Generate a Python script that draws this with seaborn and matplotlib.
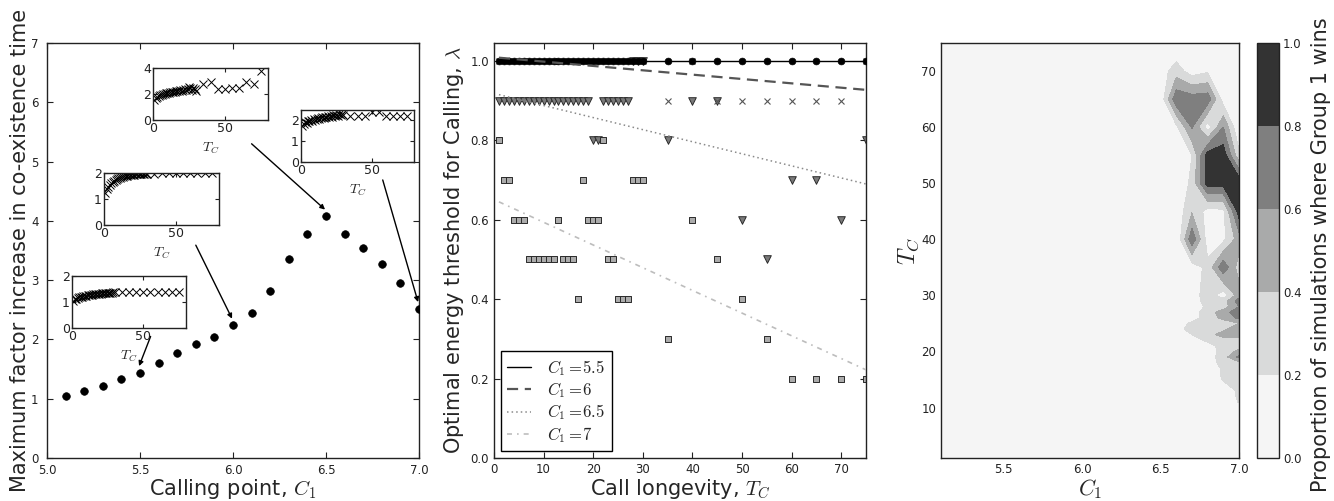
import numpy as np
import matplotlib
matplotlib.use("Agg")
import matplotlib.pyplot as plt
import seaborn as sns

# ---------------- data ----------------
# Panel 1: maximum factor increase vs calling point
calling_points = [5.1, 5.2, 5.3, 5.4, 5.5, 5.6, 5.7, 5.8, 5.9, 6.0,
                  6.1, 6.2, 6.3, 6.4, 6.5, 6.6, 6.7, 6.8, 6.9, 7.0]
max_factor = [1.04, 1.13, 1.22, 1.33, 1.44, 1.60, 1.77, 1.93, 2.04, 2.24,
              2.44, 2.82, 3.35, 3.77, 4.08, 3.77, 3.55, 3.28, 2.95, 2.52]

# Call longevity values used in the simulations
tc_dense = [1, 2, 3, 4, 5, 6, 7, 8, 9, 10, 11, 12, 13, 14, 15,
            16, 17, 18, 19, 20, 21, 22, 23, 24, 25, 26, 27, 28, 29, 30]
tc_sparse = [35, 40, 45, 50, 55, 60, 65, 70, 75]

# Insets: factor increase vs T_C for C1 = 5.5, 6, 6.5, 7
inset_55 = [1.05, 1.10, 1.13, 1.16, 1.18, 1.20, 1.21, 1.23, 1.24, 1.25,
            1.26, 1.27, 1.28, 1.28, 1.29, 1.30, 1.30, 1.31, 1.32, 1.32,
            1.33, 1.33, 1.34, 1.34, 1.35, 1.35, 1.36, 1.36, 1.37, 1.37,
            1.37, 1.37, 1.38, 1.38, 1.38, 1.39, 1.39, 1.40, 1.39]
inset_6 = [1.25, 1.38, 1.47, 1.55, 1.61, 1.66, 1.70, 1.74, 1.77, 1.80,
           1.82, 1.84, 1.86, 1.87, 1.88, 1.90, 1.91, 1.92, 1.93, 1.93,
           1.94, 1.95, 1.95, 1.96, 1.96, 1.97, 1.97, 1.97, 1.98, 1.98,
           1.98, 1.99, 1.99, 1.99, 1.99, 2.00, 2.00, 2.00, 2.00]
inset_65 = [1.55, 1.70, 1.78, 1.85, 1.90, 1.95, 1.98, 2.02, 2.05, 2.08,
            2.10, 2.12, 2.15, 2.18, 2.16, 2.22, 2.20, 2.25, 2.28, 2.24,
            2.30, 2.35, 2.27, 2.40, 2.55, 2.45, 2.30, 2.50, 2.35, 2.25,
            2.75, 2.95, 2.35, 2.35, 2.45, 2.45, 2.90, 2.75, 3.75]
inset_7 = [1.75, 1.85, 1.90, 1.88, 1.95, 1.98, 2.00, 1.97, 2.05, 2.02,
           2.08, 2.10, 2.06, 2.12, 2.15, 2.10, 2.18, 2.14, 2.20, 2.16,
           2.22, 2.18, 2.25, 2.20, 2.28, 2.22, 2.30, 2.25, 2.32, 2.27,
           2.20, 2.20, 2.20, 2.40, 2.40, 2.20, 2.20, 2.20, 2.20]
inset_ylims = [2.0, 2.0, 4.0, 2.5]
inset_yticks = [[0, 1, 2], [0, 1, 2], [0, 2, 4], [0, 1, 2]]

# Panel 2: optimal energy threshold lambda vs T_C
lam_55 = [1.0, 1.0, 1.0, 1.0, 1.0, 1.0, 1.0, 1.0, 1.0, 1.0,
          1.0, 1.0, 1.0, 1.0, 1.0, 1.0, 1.0, 1.0, 1.0, 1.0,
          1.0, 1.0, 1.0, 1.0, 1.0, 1.0, 1.0, 1.0, 1.0, 1.0,
          1.0, 1.0, 1.0, 1.0, 1.0, 1.0, 1.0, 1.0, 1.0]
lam_6 = [1.0, 1.0, 1.0, 1.0, 1.0, 1.0, 1.0, 1.0, 1.0, 1.0,
         1.0, 1.0, 1.0, 1.0, 1.0, 1.0, 1.0, 1.0, 1.0, 1.0,
         1.0, 1.0, 1.0, 1.0, 1.0, 1.0, 1.0, 1.0, 1.0, 1.0,
         0.9, 1.0, 0.9, 0.9, 0.9, 0.9, 0.9, 0.9, 1.0]
lam_65 = [0.9, 0.9, 0.9, 0.9, 0.9, 0.9, 0.9, 0.9, 0.9, 0.9,
          0.9, 0.9, 0.9, 0.9, 0.9, 0.9, 0.9, 0.9, 0.9, 0.8,
          0.8, 0.9, 0.9, 0.9, 0.9, 0.9, 0.9, 1.0, 1.0, 1.0,
          0.8, 0.9, 0.9, 0.6, 0.5, 0.7, 0.7, 0.6, 0.8]
lam_7 = [0.8, 0.7, 0.7, 0.6, 0.6, 0.6, 0.5, 0.5, 0.5, 0.5,
         0.5, 0.5, 0.6, 0.5, 0.5, 0.5, 0.4, 0.7, 0.6, 0.6,
         0.6, 0.8, 0.5, 0.5, 0.4, 0.4, 0.4, 0.7, 0.7, 0.7,
         0.3, 0.6, 0.5, 0.4, 0.3, 0.2, 0.2, 0.2, 0.2]
# linear trend lines (end values)
fit_tc = [1, 75]
fit_55 = [1.0, 1.0]
fit_6 = [1.008, 0.927]
fit_65 = [0.915, 0.690]
fit_7 = [0.645, 0.222]
legend_labels = [r"$C_1 =\!5.5$", r"$C_1 =\!6$", r"$C_1 =\!6.5$", r"$C_1 =\!7$"]

# Panel 3: proportion of simulations where Group 1 wins
c1_grid = [5.1, 5.2, 5.3, 5.4, 5.5, 5.6, 5.7, 5.8, 5.9, 6.0,
           6.1, 6.2, 6.3, 6.4, 6.5, 6.6, 6.7, 6.8, 6.9, 7.0]
win_c1 = [6.5, 6.6, 6.7, 6.8, 6.9, 7.0]
win_tc = [70, 65, 60, 55, 50, 45, 40, 35, 30, 29, 28, 27, 26, 25, 24, 23,
          22, 21, 20, 19, 18, 17, 16, 15, 14, 13, 12, 11, 10]
win_vals = [
    [0.10, 0.30, 0.10, 0.17, 0.00, 0.00],   # 70
    [0.05, 0.75, 0.70, 0.72, 0.10, 0.00],   # 65
    [0.00, 0.15, 0.62, 0.10, 0.60, 0.00],   # 60
    [0.00, 0.00, 0.20, 0.90, 0.92, 0.25],   # 55
    [0.00, 0.02, 0.25, 0.90, 0.88, 0.95],   # 50
    [0.00, 0.05, 0.38, 0.12, 0.15, 0.90],   # 45
    [0.00, 0.00, 0.75, 0.10, 0.15, 0.50],   # 40
    [0.00, 0.00, 0.10, 0.25, 0.75, 0.30],   # 35
    [0.00, 0.00, 0.10, 0.30, 0.10, 0.50],   # 30
    [0.00, 0.00, 0.10, 0.28, 0.30, 0.70],   # 29
    [0.00, 0.00, 0.05, 0.25, 0.30, 0.60],   # 28
    [0.00, 0.00, 0.10, 0.30, 0.50, 0.75],   # 27
    [0.00, 0.00, 0.10, 0.30, 0.45, 0.65],   # 26
    [0.00, 0.05, 0.25, 0.30, 0.30, 0.40],   # 25
    [0.00, 0.10, 0.30, 0.30, 0.35, 0.55],   # 24
    [0.00, 0.00, 0.20, 0.30, 0.50, 0.45],   # 23
    [0.00, 0.00, 0.10, 0.25, 0.30, 0.35],   # 22
    [0.00, 0.00, 0.00, 0.10, 0.30, 0.30],   # 21
    [0.00, 0.00, 0.00, 0.05, 0.30, 0.45],   # 20
    [0.00, 0.00, 0.00, 0.10, 0.30, 0.65],   # 19
    [0.00, 0.00, 0.00, 0.05, 0.30, 0.35],   # 18
    [0.00, 0.00, 0.00, 0.00, 0.25, 0.30],   # 17
    [0.00, 0.00, 0.00, 0.00, 0.25, 0.30],   # 16
    [0.00, 0.00, 0.00, 0.00, 0.22, 0.30],   # 15
    [0.00, 0.00, 0.00, 0.00, 0.15, 0.30],   # 14
    [0.00, 0.00, 0.00, 0.00, 0.05, 0.25],   # 13
    [0.00, 0.00, 0.00, 0.00, 0.00, 0.25],   # 12
    [0.00, 0.00, 0.00, 0.00, 0.00, 0.22],   # 11
    [0.00, 0.00, 0.00, 0.00, 0.00, 0.10],   # 10
]
win_levels = [0.0, 0.2, 0.4, 0.6, 0.8, 1.0]

# ---------------- style ----------------
sns.set_style("ticks")
plt.rcParams.update({
    "font.family": ["DejaVu Sans"],
    "mathtext.fontset": "cm",
    "xtick.direction": "in",
    "ytick.direction": "in",
    "xtick.top": True,
    "ytick.right": True,
    "xtick.major.size": 4,
    "ytick.major.size": 4,
    "xtick.labelsize": 8.5,
    "ytick.labelsize": 8.5,
    "axes.edgecolor": "#222222",
    "axes.linewidth": 1.0,
    "xtick.color": "#222222",
    "ytick.color": "#222222",
})

W, H = 1334, 501
fig = plt.figure(figsize=(W / 100, H / 100), dpi=100)


def px_axes(l, t, r, b):
    return fig.add_axes([l / W, (H - b) / H, (r - l) / W, (b - t) / H])


tc_all = tc_dense + tc_sparse

# ---------------- panel 1 ----------------
ax1 = px_axes(47, 43, 419, 458)
sns.scatterplot(x=calling_points, y=max_factor, color="black", s=30,
                edgecolor="black", linewidth=0.5, ax=ax1, legend=False, zorder=3)
ax1.set_xlim(5.0, 7.0)
ax1.set_ylim(0, 7)
ax1.set_xticks([5.0, 5.5, 6.0, 6.5, 7.0])
ax1.set_yticks(range(0, 8))
ax1.tick_params(axis="y", pad=6)
ax1.tick_params(axis="x", pad=4.5)
ax1.set_xlabel(r"Calling point, $C_1$", fontsize=15, labelpad=0)
ax1.set_ylabel("Maximum factor increase in co-existence time", fontsize=15, labelpad=1)

inset_boxes = [(72, 276, 186, 328), (104, 173, 219, 225),
               (153, 68, 268, 120), (301, 110, 414, 162)]
inset_series = [inset_55, inset_6, inset_65, inset_7]
for box, vals, ylim, yt in zip(inset_boxes, inset_series, inset_ylims, inset_yticks):
    axi = px_axes(*box)
    axi.plot(tc_all, vals, linestyle="none", marker="x", color="black",
             markersize=6, markeredgewidth=0.7)
    axi.set_xlim(0, 80)
    axi.set_ylim(0, ylim)
    axi.set_xticks([0, 50])
    axi.set_yticks(yt)
    axi.tick_params(length=3, pad=1.5, labelsize=9)
    axi.set_xlabel(r"$T_C$", fontsize=10, labelpad=4)

# arrows from insets to their points (index of the point in calling_points)
arrow_specs = [(4, (5.557, 2.05)), (9, (5.80, 3.59)),
               (14, (6.10, 5.30)), (19, (6.805, 4.69))]
for idx, start in arrow_specs:
    ax1.annotate("", xy=(calling_points[idx] - 0.005, max_factor[idx] + 0.11),
                 xytext=start, xycoords="data", textcoords="data",
                 arrowprops=dict(arrowstyle="-|>", color="black", lw=1.0,
                                 mutation_scale=7, shrinkA=0, shrinkB=0))

# ---------------- panel 2 ----------------
ax2 = px_axes(494, 43, 866, 458)
sns.scatterplot(x=tc_all, y=lam_65, marker="v", s=30, color="#7a7a7a",
                edgecolor="#2a2a2a", linewidth=0.7, ax=ax2, legend=False, zorder=2)
sns.scatterplot(x=tc_all, y=lam_7, marker="s", s=22, color="#ababab",
                edgecolor="#2a2a2a", linewidth=0.7, ax=ax2, legend=False, zorder=2)
ax2.plot(tc_all, lam_6, linestyle="none", marker="x", color="#555555",
         markersize=4.5, markeredgewidth=0.8, zorder=3)
sns.scatterplot(x=tc_all, y=lam_55, marker="o", s=24, color="black",
                edgecolor="black", linewidth=0.5, ax=ax2, legend=False, zorder=4)

l1, = ax2.plot(fit_tc, fit_55, linestyle="-", color="black", lw=1.0, zorder=5)
l2, = ax2.plot(fit_tc, fit_6, linestyle=(0, (5, 3)), color="#555555", lw=1.6, zorder=5)
l3, = ax2.plot(fit_tc, fit_65, linestyle=(0, (1, 2)), color="#8a8a8a", lw=1.1, zorder=5)
l4, = ax2.plot(fit_tc, fit_7, linestyle=(0, (3, 3, 1, 3)), color="#bdbdbd", lw=1.2, zorder=5)
ax2.set_xlim(0, 75)
ax2.set_ylim(0, 1.045)
ax2.set_xticks(range(0, 80, 10))
ax2.set_yticks([0.0, 0.2, 0.4, 0.6, 0.8, 1.0])
ax2.set_xlabel(r"Call longevity, $T_C$", fontsize=15, labelpad=1)
ax2.set_ylabel(r"Optimal energy threshold for Calling, $\lambda$", fontsize=15, labelpad=3)
leg = ax2.legend([l1, l2, l3, l4], legend_labels, loc="lower left", fontsize=12,
                 frameon=True, fancybox=False, framealpha=1, edgecolor="black",
                 handlelength=1.4, handletextpad=1.0, borderpad=0.4,
                 labelspacing=0.15, borderaxespad=0.4)
leg.get_frame().set_linewidth(1.0)

# ---------------- panel 3 ----------------
ax3 = px_axes(941, 43, 1239, 458)
Z = np.zeros((len(tc_all), len(c1_grid)))
for t, row in zip(win_tc, win_vals):
    ti = tc_all.index(t)
    for c, v in zip(win_c1, row):
        Z[ti, c1_grid.index(c)] = v
band_colors = ["#f5f5f5", "#d9dada", "#a9aaaa", "#7f7f7f", "#333333"]
cs = ax3.contourf(c1_grid, tc_all, Z, levels=win_levels, colors=band_colors)
ax3.set_xlim(5.1, 7.0)
ax3.set_ylim(1, 75)
ax3.set_xticks([5.5, 6.0, 6.5, 7.0])
ax3.set_yticks(range(10, 80, 10))
ax3.set_xlabel(r"$C_1$", fontsize=16, labelpad=1)
ax3.set_ylabel(r"$T_C$", fontsize=17, labelpad=0)
for sp in ax3.spines.values():
    sp.set_zorder(5)

cax = px_axes(1257, 43, 1279, 458)
cbar = fig.colorbar(cs, cax=cax, ticks=win_levels)
cbar.ax.tick_params(labelsize=8.5, length=0, pad=3)
cbar.ax.set_yticklabels(["0.0", "0.2", "0.4", "0.6", "0.8", "1.0"])
cbar.outline.set_edgecolor("#222222")
cbar.outline.set_linewidth(1.0)
cbar.set_label("Proportion of simulations where Group 1 wins", fontsize=15, labelpad=3)
cbar.ax.yaxis.set_label_coords(2.45, 0.49)

fig.savefig("out.png", dpi=100)
